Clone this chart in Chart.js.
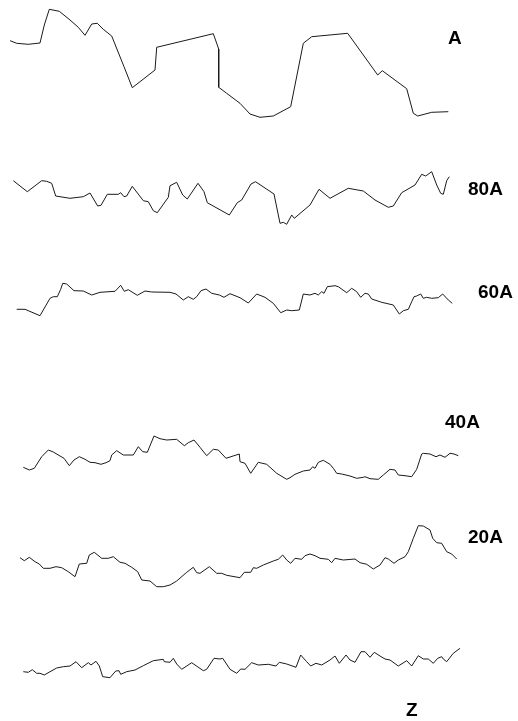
<!DOCTYPE html>
<html>
<head>
<meta charset="utf-8">
<script src="https://cdn.jsdelivr.net/npm/chart.js@4/dist/chart.umd.min.js"></script>
<style>
  html, body { margin: 0; padding: 0; background: #fff; }
  #wrap { position: relative; width: 518px; height: 721px; }
  canvas { display: block; }
</style>
</head>
<body>
<div id="wrap"><canvas id="c" width="518" height="721"></canvas></div>
<script>
// Surface height profiles, one per sample. Position along the scan and local height,
// each profile measured from its own baseline; offsets stack them on one plot.
const profileNames = ['A', '80A', '60A', '40A', '20A', 'Z'];
const profileOffsets = [601, 496, 401, 236, 131, 41];

const posA = [10,16.7,28.3,40,44.3,49.3,59.3,70,78.3,85,91.7,97.3,103.3,111.7,124,132.3,155,156.7,213.3,218.7,218.7,226.7,240,250,260,273.3,290.7,303.3,311.7,347.7,377.7,382.3,406.7,413.3,417.7,431.7,448.3];
const hA = [79.3,76.7,75.7,77,95,110.7,108.7,100,92.7,84.7,96,96.7,90.7,84,53.3,32.3,50,72.7,86.3,71,32.7,26.7,16.7,6,2.7,4,13.3,76.7,83.3,86.7,45,49.3,31.3,6.7,4,7.7,8.3];

const pos80 = [13.3,27.3,41.7,46.7,51.7,55.7,70,83.3,90,97.7,101,107.3,118.3,120.7,124,126.7,132.3,143.3,148.3,153.3,157.3,168.3,170,176.7,182.7,187.3,198,204,207.3,229.3,237.3,241.7,251,255.5,274,280,283.3,286.7,291.7,294.3,310,319,330,348.3,363.3,375,388.3,393.3,401.7,415,421.7,425.7,431.7,436.7,440.7,443.3,446.7,449.3];
const h80 = [44.3,33.3,44.3,43.7,41.7,29,26.7,28.3,32,19,19.7,30.7,30.7,32.3,28.3,29,38.7,24.3,23.3,14.3,12.3,27.7,39.3,42.7,30,26,41.7,33.3,22.3,10,22.3,25,41,43.3,31,1.7,2.7,0.7,10,6.7,20,35.7,26.7,36.7,34,25,17.7,19,32.3,40,50.7,49,53.3,40,31.7,30.7,44.3,48.3];

const pos60 = [16.7,25,40,50,53.3,57.3,60.7,62.7,66.7,74,83.3,91.7,100,115,120.7,124.3,128.3,137.3,145,151.7,170,176,183.3,188.3,193.3,196.7,201,206,211.7,219.3,224,230,240,248.3,256.7,265,273.3,280.7,286.7,291.7,299.3,303.3,310,315,318.3,321.7,324,327.3,335,338.3,346.7,351.7,356.7,360.7,365,368.3,371.7,381.7,393.3,399.3,403.3,408.3,411.7,414,416.7,420.7,423.3,426.7,431.7,438.3,442.7,448.3,452.3];
const h60 = [10.7,10.7,4.3,21.7,23.3,23.3,30.7,36.7,36,29.3,29,25,27.7,28.7,34.7,28.7,30.3,24.7,29,28,27.7,26,20,23.3,20.7,23.3,29.3,31,26.7,25,22.7,26.3,22.3,17,26,22.7,16.7,7.3,10,9.3,10,26,25,26.7,25,28.3,26.7,33.3,34.3,33.3,27.3,31.7,28.3,22.7,26.7,26,21,17.7,15,6,9.3,10.7,18.3,23.3,24,26,21.7,22.7,21.7,22.3,26,20,16.7];

const pos40 = [23.3,29.3,34.3,41.7,48.3,53.3,60,64,69.3,74,79.3,85,90,95,101,106,110,111.7,116.7,123.3,133.3,138.3,142.7,147.3,154,160,166.7,176.7,184.3,188.3,194,200,206.7,213.3,218.3,226,239.3,240,245,250.7,258.3,266.7,276.7,286.7,290,295,303.3,310,312.7,315,318.3,323.3,330,333.3,336.7,341.7,350,356.7,363.3,365,370,378.3,383.3,390,395,398.3,405,411.7,416.7,421.7,423.3,430,436,440,445,450,454,458.3];
const h40 = [17.7,15,16.7,28.3,35,33,29,26.7,19.3,25,28.3,25.7,22.7,22.3,20.7,22.3,24.3,30,34.3,30,30,38.3,33.3,32.7,49,46.3,45,45.7,39.3,42.3,45,37.7,29.3,35.7,35,26.7,31,23.3,21.7,11.7,22.7,20.7,11.7,5.7,7.3,10.7,14,15,18.3,16.7,22.7,24.7,20.7,16.7,11.7,11,9,6.7,7.7,8.3,6.3,5.7,10,15.7,15,10,9.3,8.3,15.7,31,31.7,31,28.3,30,27.7,31.7,31,29.3];

const pos20 = [20,24.3,29.3,35,39.3,43.3,50,56,61.7,68.3,75,79.3,86.7,89.3,94.3,101.7,108.3,113.3,120,125,131.7,137.7,141.7,150,156.7,163.3,170,176.7,186.7,193.3,196.7,200,209.3,216.7,221.7,226.7,240,244.3,250.7,253.3,256.7,263.3,273.3,278.3,282.7,286.7,290.7,295,301.7,305,310,315,320,328.3,331.7,335,343.3,355,360,366.7,373.3,380,385,388.3,394,398.3,405,408.3,413.3,418.3,423.3,430,432.7,436.7,441.7,446.7,451.7,456.7];
const h20 = [32.3,29.3,32.7,28.3,26,21.7,21.7,23.3,22.3,18.3,13.3,26,26.7,35,37.7,31.7,31.7,33.3,27.7,26.7,22.7,18.3,10,9,3.3,3.3,5,9,17.7,22.7,17.3,16.7,23.3,16.7,16.7,14.7,12.3,17.7,17.7,22.3,21.7,25,29,30.7,35,30,26.7,31.7,30.7,34.3,36,34.3,31.7,30.7,27.3,31.7,30,31,27.3,25.7,21,25,32.3,31,26.7,30,33.3,38.3,51.7,64.3,64,60,51.7,47.3,46.7,38.3,36,31];

const posZ = [23.3,28.3,32.3,36.7,40,44.3,50,56.7,63.3,70,76,81.7,88.3,91,96,99.3,102.7,110,115.7,119,120.7,126.7,135,143.3,153.3,163.3,164.3,170,173.3,176.7,181.7,191.7,203.3,206.7,214,220,222.7,230,236.7,240.7,245,251.7,258.3,268.3,276,279.3,286.7,296,300.7,306.7,310.7,316,321.7,330,335,339.3,346,350,355,361,365,370,374.3,380,385,390,398.3,406.7,411.7,418.3,423.3,428.3,433.3,437.7,441.7,443.3,446.7,453.3,460];
const hZ = [8.3,7.7,10.3,6.7,6.7,5,8.3,12,13.3,14,18.3,12.3,17.3,15,18.7,14,3.3,2.3,9,9.3,5.7,8.3,10,14.3,19.3,20.7,18.3,17.7,21.7,16,10.7,17.3,9.3,10.7,21.7,21,21.7,10.7,6.7,11,10.7,17.3,15,15.7,14,17.7,16,12.7,25,18.3,14,16.7,15,20,24,16.7,25,20,17.7,28.3,28.3,22.7,27.7,24,21,20,14,19.3,14,24.3,21,21,16.7,21.7,23.3,21,18.3,26.7,31.7];

const profiles = [[posA, hA], [pos80, h80], [pos60, h60], [pos40, h40], [pos20, h20], [posZ, hZ]];

const datasets = profiles.map(([pos, h], i) => ({
  label: profileNames[i],
  data: pos.map((x, k) => ({ x: x, y: h[k] + profileOffsets[i] })),
  borderColor: '#1a1a1a',
  borderWidth: 1,
  pointRadius: 0,
  tension: 0,
  fill: false
}));

// Sample names printed beside each profile (left edge, text baseline in px).
const labelPlugin = {
  id: 'profileLabels',
  afterDraw(chart, args, opts) {
    const ctx = chart.ctx;
    ctx.save();
    ctx.fillStyle = '#000';
    ctx.font = 'bold 19px "Liberation Sans", Arial, sans-serif';
    ctx.textBaseline = 'alphabetic';
    ctx.textAlign = 'left';
    opts.items.forEach(it => ctx.fillText(it.text, it.left, it.baseline));
    ctx.restore();
  }
};

new Chart(document.getElementById('c'), {
  type: 'line',
  data: { datasets },
  options: {
    responsive: false,
    animation: false,
    layout: { padding: 0 },
    scales: {
      x: { type: 'linear', min: 0, max: 518, display: false },
      y: { type: 'linear', min: 0, max: 721, display: false }
    },
    plugins: {
      legend: { display: false },
      tooltip: { enabled: false },
      profileLabels: {
        items: [
          { text: profileNames[0], left: 448, baseline: 44 },
          { text: profileNames[1], left: 468, baseline: 195 },
          { text: profileNames[2], left: 478, baseline: 298 },
          { text: profileNames[3], left: 445, baseline: 428 },
          { text: profileNames[4], left: 468, baseline: 543 },
          { text: profileNames[5], left: 406, baseline: 716 }
        ]
      }
    }
  },
  plugins: [labelPlugin]
});
</script>
</body>
</html>
